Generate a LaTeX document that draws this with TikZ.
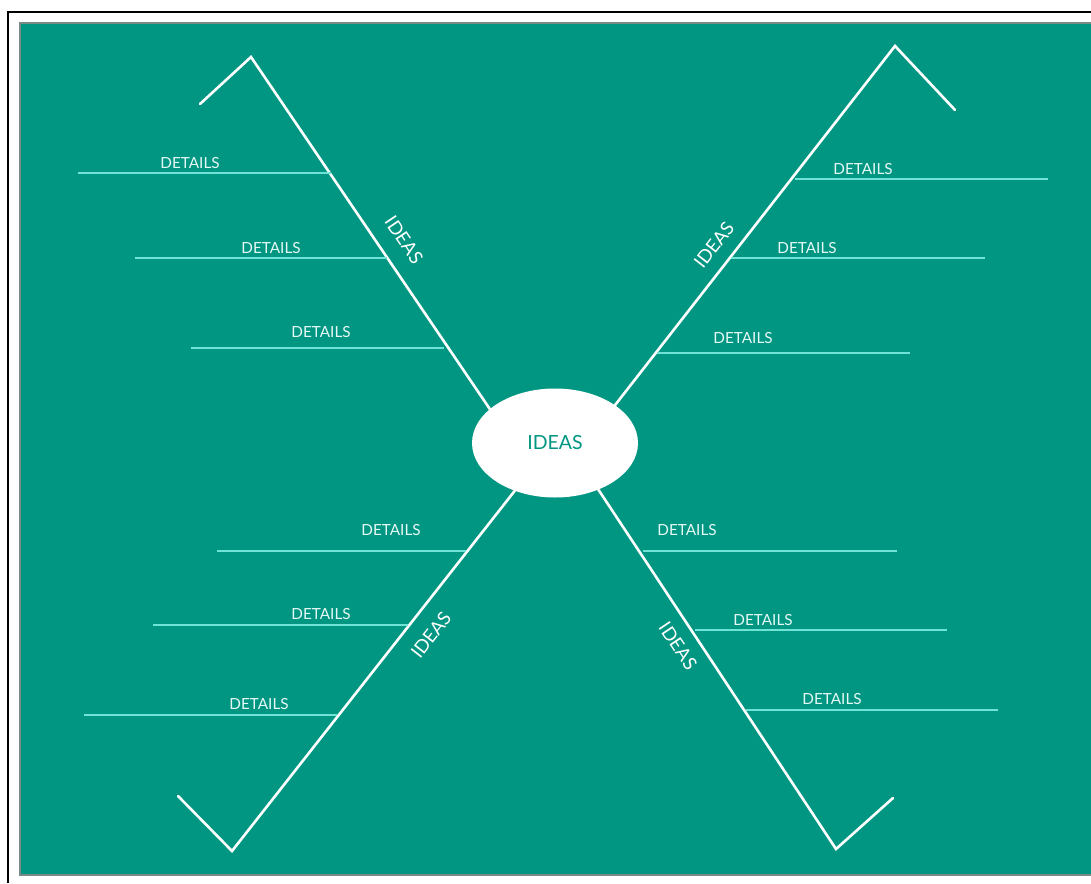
\documentclass[tikz,border=0pt]{standalone}
\usepackage{fontspec}
\setmainfont{Lato}
\usetikzlibrary{shapes.geometric}
\definecolor{bg}{HTML}{009682}
\definecolor{detline}{HTML}{6FE3D6}
\definecolor{dettext}{HTML}{E6F8F5}
\definecolor{frame}{HTML}{000000}
\definecolor{shadow}{HTML}{7A8A86}
\tikzset{
  bone/.style={draw=white, line width=2.6pt, line cap=round, line join=miter},
  detail/.style={draw=detline, line width=1.6pt},
  dlabel/.style={text=dettext, font=\fontsize{15.3}{16}\selectfont, inner sep=0pt, anchor=base},
  ilabel/.style={text=white, font=\fontsize{18.5}{19}\selectfont, inner sep=0pt},
}
\begin{document}
\begin{tikzpicture}[x=1pt, y=-1pt]
\useasboundingbox (0,0) rectangle (1091,883);
\fill[white] (0,0) rectangle (1091,883);
% frame and background
\draw[frame, line width=1.8pt] (8,883) -- (8,12) -- (1091,12);
\fill[shadow] (19,22) rectangle (1091,876);
\fill[bg] (21,24) rectangle (1091,874);

% coordinates of the main bones
\coordinate (ulA) at (251,57);  \coordinate (ulH) at (200,104); \coordinate (ulE) at (500,424);
\coordinate (urA) at (895,46);  \coordinate (urH) at (955,110); \coordinate (urE) at (605,418);
\coordinate (llA) at (232,851); \coordinate (llH) at (178,796); \coordinate (llE) at (524,479);
\coordinate (lrA) at (836,849); \coordinate (lrH) at (893,798); \coordinate (lrE) at (592,480);

\draw[bone] (ulH) -- (ulA) -- (ulE);
\draw[bone] (urH) -- (urA) -- (urE);
\draw[bone] (llH) -- (llA) -- (llE);
\draw[bone] (lrH) -- (lrA) -- (lrE);

% centre
\node[ellipse, fill=white, minimum width=166pt, minimum height=109pt, inner sep=0pt,
      text=bg, font=\fontsize{19.5}{20}\selectfont] (c) at (555,443) {IDEAS};

% bone labels
\node[ilabel, rotate=-56] (uli) at (404,240) {IDEAS};
\node[ilabel, rotate=52]  (uri) at (714,245) {IDEAS};
\node[ilabel, rotate=52]  (lli) at (431,635) {IDEAS};
\node[ilabel, rotate=-56] (lri) at (678,646) {IDEAS};

% detail lines: upper left
\coordinate (d1a) at (78,173);  \coordinate (d1b) at (331,173);
\coordinate (d2a) at (135,258); \coordinate (d2b) at (387,258);
\coordinate (d3a) at (191,348); \coordinate (d3b) at (444,348);
% upper right
\coordinate (d4a) at (1048,179); \coordinate (d4b) at (795,179);
\coordinate (d5a) at (985,258);  \coordinate (d5b) at (731,258);
\coordinate (d6a) at (910,353);  \coordinate (d6b) at (657,353);
% lower left
\coordinate (d7a) at (217,551); \coordinate (d7b) at (466,551);
\coordinate (d8a) at (153,625); \coordinate (d8b) at (408,625);
\coordinate (d9a) at (84,715);  \coordinate (d9b) at (337,715);
% lower right
\coordinate (d10a) at (897,551); \coordinate (d10b) at (643,551);
\coordinate (d11a) at (947,630); \coordinate (d11b) at (695,630);
\coordinate (d12a) at (998,710); \coordinate (d12b) at (746,710);

\foreach \i in {1,...,12} {\draw[detail] (d\i a) -- (d\i b);}

% detail labels
\node[dlabel] (t1)  at (190,168) {DETAILS};
\node[dlabel] (t2)  at (271,253) {DETAILS};
\node[dlabel] (t3)  at (321,337) {DETAILS};
\node[dlabel] (t4)  at (863,174) {DETAILS};
\node[dlabel] (t5)  at (807,253) {DETAILS};
\node[dlabel] (t6)  at (743,343) {DETAILS};
\node[dlabel] (t7)  at (391,535) {DETAILS};
\node[dlabel] (t8)  at (321,619) {DETAILS};
\node[dlabel] (t9)  at (259,709) {DETAILS};
\node[dlabel] (t10) at (687,535) {DETAILS};
\node[dlabel] (t11) at (763,625) {DETAILS};
\node[dlabel] (t12) at (832,704) {DETAILS};
\end{tikzpicture}
\end{document}
